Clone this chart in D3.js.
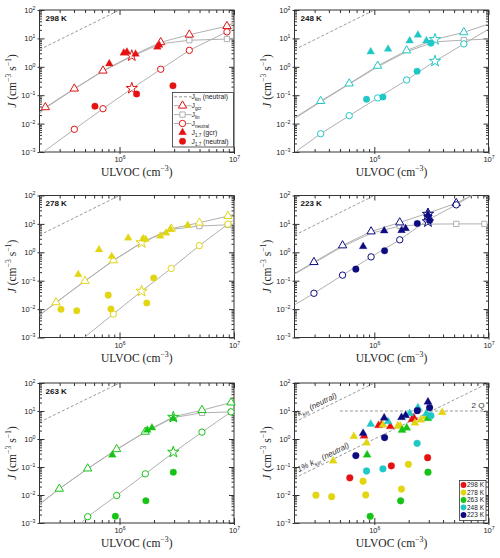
<!DOCTYPE html>
<html>
<head>
<meta charset="utf-8">
<script src="https://cdn.jsdelivr.net/npm/d3@7"></script>
<style>
body { margin: 0; background: #fff; }
</style>
</head>
<body>
<div id="chart"></div>
<script>
// tick values
const xMajor = [1e6, 1e7];
const xMinor = [3e5, 4e5, 5e5, 6e5, 7e5, 8e5, 9e5, 2e6, 3e6, 4e6, 5e6, 6e6, 7e6, 8e6, 9e6];
const yMajor = [1e-3, 1e-2, 1e-1, 1, 10, 100];
const yMinor = [];
yMajor.slice(0, -1).forEach((d) => [2, 3, 4, 5, 6, 7, 8, 9].forEach((m) => yMinor.push(d * m)));

// reference lines
const kinLine = [[2e5, 4], [1e6, 100]];
const kin1pct = [[2e5, 0.04], [1e7, 100]];
const twoQ = [[5e5, 10], [1e7, 10]];

// 298 K
const gcrCurve298 = [[2e5, 0.024], [2.25e5, 0.0375], [4.03e5, 0.17], [7.17e5, 0.73], [1.28e6, 2.46], [2.29e6, 7.3], [4.07e6, 13.5], [8.68e6, 27], [1e7, 36]];
const linCurve298 = [[2e5, 0.022], [2.25e5, 0.035], [4.03e5, 0.165], [7.17e5, 0.7], [1.28e6, 2.3], [2.29e6, 6.5], [4.07e6, 8.6], [8.68e6, 9.5], [1e7, 9.6]];
const neuCurve298 = [[2e5, 0.0008], [4.03e5, 0.0063], [7.17e5, 0.0335], [1.28e6, 0.17], [2.29e6, 0.82], [4.07e6, 3.8], [8.68e6, 17], [1e7, 26]];
const gcrPts298 = [[2.25e5, 0.0375], [4.03e5, 0.17], [7.17e5, 0.73], [2.29e6, 7.3], [4.07e6, 13.5], [8.68e6, 27]];
const linPts298 = [[4.07e6, 8.6], [8.68e6, 9.5]];
const neuPts298 = [[4.03e5, 0.0063], [7.17e5, 0.0335], [2.29e6, 0.82], [4.07e6, 3.8], [8.68e6, 17]];
const star298 = [[1.28e6, 2.46], [1.28e6, 0.175]];
const tri298 = [[8.14e5, 1.29], [1.09e6, 3.06], [1.16e6, 3.3], [1.38e6, 2.8], [2.14e6, 5.0], [2.22e6, 5.8]];
const circ298 = [[6.1e5, 0.041], [1.41e6, 0.11], [2.93e6, 0.216]];

// 248 K
const gcrCurve248 = [[2e5, 0.016], [3.39e5, 0.062], [6.03e5, 0.257], [1.07e6, 1.08], [1.92e6, 3.76], [3.4e6, 9.2], [6.08e6, 16.3], [1e7, 32]];
const linCurve248 = [[2e5, 0.015], [3.39e5, 0.058], [6.03e5, 0.245], [1.07e6, 1.0], [1.92e6, 3.4], [3.4e6, 7.6], [6.08e6, 8.7], [1e7, 9.5]];
const neuCurve248 = [[2e5, 0.00095], [3.39e5, 0.0044], [6.03e5, 0.019], [1.07e6, 0.08], [1.92e6, 0.344], [3.4e6, 1.58], [6.08e6, 6.4], [1e7, 21]];
const gcrPts248 = [[3.39e5, 0.062], [6.03e5, 0.257], [1.07e6, 1.08], [1.92e6, 3.76], [6.08e6, 16.3]];
const linPts248 = [[6.08e6, 8.7]];
const neuPts248 = [[3.39e5, 0.0044], [6.03e5, 0.019], [1.07e6, 0.08], [1.92e6, 0.344], [6.08e6, 6.4]];
const star248 = [[3.4e6, 9.2], [3.4e6, 1.58]];
const tri248 = [[9.3e5, 3.37], [1.32e6, 4.2], [2.04e6, 8.2], [2.41e6, 13.1], [2.86e6, 8.2]];
const circ248 = [[8.55e5, 0.072], [1.19e6, 0.086], [2.37e6, 0.70], [3.13e6, 6.8]];

// 278 K
const gcrCurve278 = [[2e5, 0.0062], [2.79e5, 0.0172], [4.99e5, 0.098], [8.83e5, 0.52], [1.56e6, 2.2], [2.83e6, 6.8], [4.98e6, 11], [8.85e6, 18.8], [1e7, 22]];
const linCurve278 = [[2e5, 0.006], [2.79e5, 0.017], [4.99e5, 0.097], [8.83e5, 0.51], [1.56e6, 2.15], [2.83e6, 6.4], [4.98e6, 8.4], [8.85e6, 9.3], [1e7, 9.5]];
const neuCurve278 = [[4.4e5, 0.0007], [8.83e5, 0.0067], [1.56e6, 0.043], [2.83e6, 0.27], [4.98e6, 1.72], [8.85e6, 9.8], [1e7, 14]];
const gcrPts278 = [[2.79e5, 0.0172], [4.99e5, 0.098], [8.83e5, 0.52], [2.83e6, 6.8], [4.98e6, 11], [8.85e6, 18.8]];
const linPts278 = [[4.98e6, 8.4], [8.85e6, 9.3]];
const neuPts278 = [[8.83e5, 0.0067], [2.83e6, 0.27], [4.98e6, 1.72], [8.85e6, 9.8]];
const star278 = [[1.56e6, 2.2], [1.56e6, 0.043]];
const tri278 = [[4.36e5, 0.165], [6.62e5, 1.24], [8.55e5, 0.72], [1.19e6, 3.18], [1.61e6, 3.0], [1.69e6, 2.86], [2.27e6, 3.73], [2.55e6, 4.75], [2.8e6, 6.4], [3.94e6, 8.9]];
const circ278 = [[3.08e5, 0.0098], [4.23e5, 0.0087], [7.97e5, 0.031], [8.41e5, 0.01], [1.73e6, 0.0163], [1.99e6, 0.125]];

// 223 K
const gcrCurve223 = [[2e5, 0.18], [2.96e5, 0.45], [5.27e5, 1.74], [9.37e5, 5.4], [1.67e6, 11.2], [2.95e6, 23.9], [5.22e6, 53.7], [1e7, 200]];
const linCurve223 = [[2e5, 0.17], [2.96e5, 0.42], [5.27e5, 1.6], [9.37e5, 4.7], [1.67e6, 8.4], [2.95e6, 9.8], [5.22e6, 10], [9.2e6, 10], [1e7, 10]];
const neuCurve223 = [[2e5, 0.014], [2.96e5, 0.036], [5.27e5, 0.157], [9.37e5, 0.69], [1.67e6, 2.75], [2.95e6, 13.9], [5.22e6, 46.9], [1e7, 230]];
const gcrPts223 = [[2.96e5, 0.45], [5.27e5, 1.74], [9.37e5, 5.4], [1.67e6, 11.2], [2.95e6, 23.9], [5.22e6, 53.7]];
const linPts223 = [[1.67e6, 8.4], [5.22e6, 10], [9.2e6, 10]];
const neuPts223 = [[2.96e5, 0.036], [5.27e5, 0.157], [9.37e5, 0.69], [1.67e6, 2.75], [2.95e6, 13.9], [5.22e6, 46.9]];
const star223 = [[2.95e6, 22], [2.95e6, 12]];
const tri223 = [[7.98e5, 1.6], [1.22e6, 5.7], [1.73e6, 5.9], [1.88e6, 6.9], [2.95e6, 21]];
const circ223 = [[6.89e5, 0.255], [1.23e6, 1.13], [2.38e6, 10.3], [3.05e6, 13.2]];

// 263 K
const gcrCurve263 = [[2e5, 0.0047], [2.98e5, 0.0166], [5.27e5, 0.088], [9.44e5, 0.43], [1.68e6, 1.81], [2.95e6, 6.2], [5.25e6, 10.7], [9.42e6, 20], [1e7, 22]];
const linCurve263 = [[2e5, 0.0047], [2.98e5, 0.0166], [5.27e5, 0.087], [9.44e5, 0.42], [1.68e6, 1.75], [2.95e6, 5.8], [5.25e6, 8.6], [9.42e6, 9.3], [1e7, 9.4]];
const neuCurve263 = [[4.2e5, 0.0007], [5.27e5, 0.00168], [9.44e5, 0.0096], [1.68e6, 0.057], [2.95e6, 0.325], [5.25e6, 1.76], [9.42e6, 9.3], [1e7, 11]];
const gcrPts263 = [[2.98e5, 0.0166], [5.27e5, 0.088], [9.44e5, 0.43], [1.68e6, 1.81], [5.25e6, 10.7], [9.42e6, 20]];
const linPts263 = [[5.25e6, 8.6], [9.42e6, 9.3]];
const neuPts263 = [[5.27e5, 0.00168], [9.44e5, 0.0096], [1.68e6, 0.057], [5.25e6, 1.76], [9.42e6, 9.3]];
const star263 = [[2.95e6, 6.0], [2.95e6, 0.34]];
const tri263 = [[8.65e5, 0.27], [1.75e6, 2.08], [1.92e6, 2.5], [2.95e6, 5.4]];
const circ263 = [[9.2e5, 0.00173], [1.7e6, 0.0062], [2.95e6, 0.065]];

const tempLabels = ['298 K', '278 K', '263 K', '248 K', '223 K'];
const tempColors = ['#e41212', '#e2d512', '#16c316', '#1fc7c7', '#0c0c80'];

// layout
const cols = [[39.5, 234], [294.5, 488.5]];
const rows = [[10, 152], [195.5, 337.5], [383, 523]];
const lineGray = '#b0b0b0';
const dashGray = '#9a9a9a';

const svg = d3
	.select('#chart')
	.append('svg')
	.attr('width', 500)
	.attr('height', 558)
	.style('font-family', 'Liberation Sans, Arial, sans-serif');

// text with sub/superscripts
function rich(sel, parts, base) {
	let shift = 0;
	parts.forEach(([s, kind]) => {
		const t = sel.append('tspan').text(s);
		const target = kind === 'sup' ? -base * 0.42 : kind === 'sub' ? base * 0.3 : 0;
		if (target - shift !== 0) t.attr('dy', target - shift);
		shift = target;
		if (kind === 'sup' || kind === 'sub') t.attr('font-size', base * 0.68);
		if (kind === 'i') t.attr('font-style', 'italic');
	});
}

function styleAxis(g) {
	g.select('.domain').remove();
	g.selectAll('.tick line').attr('stroke', '#333');
	g.attr('font-family', null).attr('font-size', null);
}

function expLabels(g) {
	g.selectAll('.tick text').each(function (d) {
		const e = Math.round(Math.log10(d));
		const t = d3.select(this).text('10').attr('fill', '#222').attr('font-size', 7.5);
		t.append('tspan').attr('dy', -3).attr('font-size', 5.2).text(e < 0 ? '\u2212' + -e : e);
	});
}

// one panel frame: scales, axes, labels
function makePanel(ci, ri, id) {
	const [x0, x1] = cols[ci];
	const [y0, y1] = rows[ri];
	const w = x1 - x0;
	const h = y1 - y0;
	const g = svg.append('g').attr('transform', `translate(${x0},${y0})`);
	const x = d3.scaleLog().domain([2e5, 1e7]).range([0, w]);
	const y = d3.scaleLog().domain([1e-3, 1e2]).range([h, 0]);

	g.append('clipPath').attr('id', 'clip' + id).append('rect').attr('width', w).attr('height', h);

	// bottom
	g.append('g').attr('transform', `translate(0,${h})`)
		.call(d3.axisBottom(x).tickValues(xMinor).tickSizeInner(-3).tickSizeOuter(0).tickFormat(''))
		.call(styleAxis);
	g.append('g').attr('transform', `translate(0,${h})`)
		.call(d3.axisBottom(x).tickValues(xMajor).tickSizeInner(-5).tickSizeOuter(0).tickFormat(''))
		.call(styleAxis);
	g.append('g').attr('transform', `translate(0,${h})`)
		.call(d3.axisBottom(x).tickValues(xMajor).tickSizeInner(2).tickSizeOuter(0).tickPadding(3))
		.call(styleAxis)
		.call(expLabels);
	// top
	g.append('g')
		.call(d3.axisTop(x).tickValues(xMinor).tickSizeInner(-3).tickSizeOuter(0).tickFormat(''))
		.call(styleAxis);
	g.append('g')
		.call(d3.axisTop(x).tickValues(xMajor).tickSizeInner(-5).tickSizeOuter(0).tickFormat(''))
		.call(styleAxis);
	// left
	g.append('g')
		.call(d3.axisLeft(y).tickValues(yMinor).tickSizeInner(-2.5).tickSizeOuter(0).tickFormat(''))
		.call(styleAxis);
	g.append('g')
		.call(d3.axisLeft(y).tickValues(yMajor).tickSizeInner(-5).tickSizeOuter(0).tickFormat(''))
		.call(styleAxis);
	g.append('g')
		.call(d3.axisLeft(y).tickValues(yMajor).tickSizeInner(2).tickSizeOuter(0).tickPadding(2))
		.call(styleAxis)
		.call(expLabels);
	// right
	g.append('g').attr('transform', `translate(${w},0)`)
		.call(d3.axisRight(y).tickValues(yMinor).tickSizeInner(-2.5).tickSizeOuter(0).tickFormat(''))
		.call(styleAxis);
	g.append('g').attr('transform', `translate(${w},0)`)
		.call(d3.axisRight(y).tickValues(yMajor).tickSizeInner(-5).tickSizeOuter(0).tickFormat(''))
		.call(styleAxis);

	g.append('rect').attr('width', w).attr('height', h)
		.attr('fill', 'none').attr('stroke', '#333').attr('stroke-width', 1);

	// axis titles
	const xl = g.append('text').attr('x', w / 2).attr('y', h + 24)
		.attr('text-anchor', 'middle').attr('font-family', 'Liberation Serif, serif')
		.attr('font-size', 11.5).attr('fill', '#222');
	rich(xl, [['ULVOC (cm', 'n'], ['\u22123', 'sup'], [')', 'n']], 11.5);

	const yl = g.append('text').attr('transform', `translate(-23.5,${h / 2}) rotate(-90)`)
		.attr('text-anchor', 'middle').attr('font-family', 'Liberation Serif, serif')
		.attr('font-size', 11.5).attr('fill', '#222');
	rich(yl, [['J', 'i'], [' (cm', 'n'], ['\u22123', 'sup'], [' s', 'n'], ['\u22121', 'sup'], [')', 'n']], 11.5);

	const plot = g.append('g').attr('clip-path', `url(#clip${id})`);
	return { g, plot, x, y, w, h };
}

function drawLine(p, pts, dash, color) {
	const line = d3.line().x((d) => p.x(d[0])).y((d) => p.y(d[1]));
	p.plot.append('path').datum(pts).attr('d', line)
		.attr('fill', 'none').attr('stroke', color || lineGray).attr('stroke-width', 1)
		.attr('stroke-dasharray', dash ? '3,2' : null);
}

function drawSymbols(p, pts, type, size, color, open) {
	p.g.append('g').selectAll('path').data(pts).join('path')
		.attr('transform', (d) => `translate(${p.x(d[0])},${p.y(d[1])})`)
		.attr('d', d3.symbol(type, size))
		.attr('fill', open ? '#fff' : color)
		.attr('stroke', color)
		.attr('stroke-width', open ? 1 : 0.3);
}

function tempPanel(ci, ri, id, label, color, s) {
	const p = makePanel(ci, ri, id);
	drawLine(p, kinLine, true, dashGray);
	drawLine(p, s.lin);
	drawLine(p, s.gcr);
	drawLine(p, s.neu);
	drawSymbols(p, s.linPts, d3.symbolSquare, 28, lineGray, true);
	drawSymbols(p, s.gcrPts, d3.symbolTriangle, 30, color, true);
	drawSymbols(p, s.neuPts, d3.symbolCircle, 32, color, true);
	drawSymbols(p, s.stars, d3.symbolStar, 40, color, true);
	drawSymbols(p, s.tri, d3.symbolTriangle, 26, color, false);
	drawSymbols(p, s.circ, d3.symbolCircle, 34, color, false);
	p.g.append('text').attr('x', 6).attr('y', 10.5).attr('font-size', 8)
		.attr('font-weight', 'bold').attr('fill', '#111').text(label);
	return p;
}

const p298 = tempPanel(0, 0, 'a', '298 K', tempColors[0], {
	gcr: gcrCurve298, lin: linCurve298, neu: neuCurve298, gcrPts: gcrPts298, linPts: linPts298,
	neuPts: neuPts298, stars: star298, tri: tri298, circ: circ298,
});
tempPanel(1, 0, 'b', '248 K', tempColors[3], {
	gcr: gcrCurve248, lin: linCurve248, neu: neuCurve248, gcrPts: gcrPts248, linPts: linPts248,
	neuPts: neuPts248, stars: star248, tri: tri248, circ: circ248,
});
tempPanel(0, 1, 'c', '278 K', tempColors[1], {
	gcr: gcrCurve278, lin: linCurve278, neu: neuCurve278, gcrPts: gcrPts278, linPts: linPts278,
	neuPts: neuPts278, stars: star278, tri: tri278, circ: circ278,
});
tempPanel(1, 1, 'd', '223 K', tempColors[4], {
	gcr: gcrCurve223, lin: linCurve223, neu: neuCurve223, gcrPts: gcrPts223, linPts: linPts223,
	neuPts: neuPts223, stars: star223, tri: tri223, circ: circ223,
});
tempPanel(0, 2, 'e', '263 K', tempColors[2], {
	gcr: gcrCurve263, lin: linCurve263, neu: neuCurve263, gcrPts: gcrPts263, linPts: linPts263,
	neuPts: neuPts263, stars: star263, tri: tri263, circ: circ263,
});

// legend of the first panel
const legendItems = [
	{ parts: [['J', 'n'], ['kin', 'sub'], [' (neutral)', 'n']], dash: true },
	{ parts: [['J', 'n'], ['gcr', 'sub']], sym: d3.symbolTriangle, size: 30, open: true },
	{ parts: [['J', 'n'], ['lin', 'sub']], sym: d3.symbolSquare, size: 28, open: true, gray: true },
	{ parts: [['J', 'n'], ['neutral', 'sub']], sym: d3.symbolCircle, size: 32, open: true },
	{ parts: [['J', 'n'], ['1.7', 'sub'], [' (gcr)', 'n']], sym: d3.symbolTriangle, size: 26, noLine: true },
	{ parts: [['J', 'n'], ['1.7', 'sub'], [' (neutral)', 'n']], sym: d3.symbolCircle, size: 34, noLine: true },
];
{
	const lg = p298.g.append('g').attr('transform', `translate(${172.5 - 39.5},${92.5 - 10})`);
	lg.append('rect').attr('width', 61).attr('height', 54.5)
		.attr('fill', '#fff').attr('stroke', '#333').attr('stroke-width', 0.8);
	legendItems.forEach((it, i) => {
		const yy = 4.3 + i * 8.9;
		if (!it.noLine) {
			lg.append('line').attr('x1', 1.5).attr('x2', 19).attr('y1', yy).attr('y2', yy)
				.attr('stroke', it.dash ? dashGray : lineGray).attr('stroke-dasharray', it.dash ? '3,2' : null);
		}
		if (it.sym) {
			const c = it.gray ? lineGray : tempColors[0];
			lg.append('path').attr('transform', `translate(10,${yy})`)
				.attr('d', d3.symbol(it.sym, it.size))
				.attr('fill', it.open ? '#fff' : c).attr('stroke', c).attr('stroke-width', it.open ? 1 : 0.3);
		}
		const t = lg.append('text').attr('x', 19).attr('y', yy + 2.2).attr('font-size', 6.8).attr('fill', '#222');
		rich(t, it.parts, 6.8);
	});
}

// combined panel
const pc = makePanel(1, 2, 'f');
drawLine(pc, kinLine, true, dashGray);
drawLine(pc, kin1pct, true, dashGray);
drawLine(pc, twoQ, true, dashGray);
const combTri = [tri298, tri278, tri263, tri248, tri223];
const combCirc = [circ298, circ278, circ263, circ248, circ223];
combTri.forEach((pts, i) => {
	drawSymbols(pc, pts, d3.symbolTriangle, 28, tempColors[i], false);
	drawSymbols(pc, combCirc[i], d3.symbolCircle, 36, tempColors[i], false);
});

function slopeText(p, pts, at, parts) {
	const ax = p.x(pts[0][0]), ay = p.y(pts[0][1]);
	const bx = p.x(pts[1][0]), by = p.y(pts[1][1]);
	const ang = (Math.atan2(by - ay, bx - ax) * 180) / Math.PI;
	const f = (p.x(at) - ax) / (bx - ax);
	const px = ax + f * (bx - ax), py = ay + f * (by - ay);
	const t = p.g.append('text')
		.attr('transform', `translate(${px},${py}) rotate(${ang}) translate(0,-3.5)`)
		.attr('font-size', 8).attr('font-style', 'italic').attr('fill', '#333');
	rich(t, parts, 8);
}
slopeText(pc, kinLine, 2.25e5, [['k', 'n'], ['kin', 'sub'], [' (neutral)', 'n']]);
slopeText(pc, kin1pct, 2.25e5, [['1% k', 'n'], ['kin', 'sub'], [' (neutral)', 'n']]);
pc.g.append('text').attr('x', pc.w - 4).attr('y', pc.y(10) - 3.5).attr('text-anchor', 'end')
	.attr('font-size', 8).attr('fill', '#333').text('2 Q');

{
	const lg = pc.g.append('g').attr('transform', `translate(${459.5 - 294.5},${480.5 - 383})`);
	lg.append('rect').attr('width', 26.5).attr('height', 40)
		.attr('fill', '#fff').attr('stroke', '#333').attr('stroke-width', 0.8);
	tempLabels.forEach((lab, i) => {
		const yy = 4.5 + i * 7.5;
		lg.append('path').attr('transform', `translate(4,${yy})`)
			.attr('d', d3.symbol(d3.symbolCircle, 26)).attr('fill', tempColors[i]);
		lg.append('text').attr('x', 7.5).attr('y', yy + 2.3).attr('font-size', 6.5)
			.attr('fill', '#222').text(lab);
	});
}
</script>
</body>
</html>
